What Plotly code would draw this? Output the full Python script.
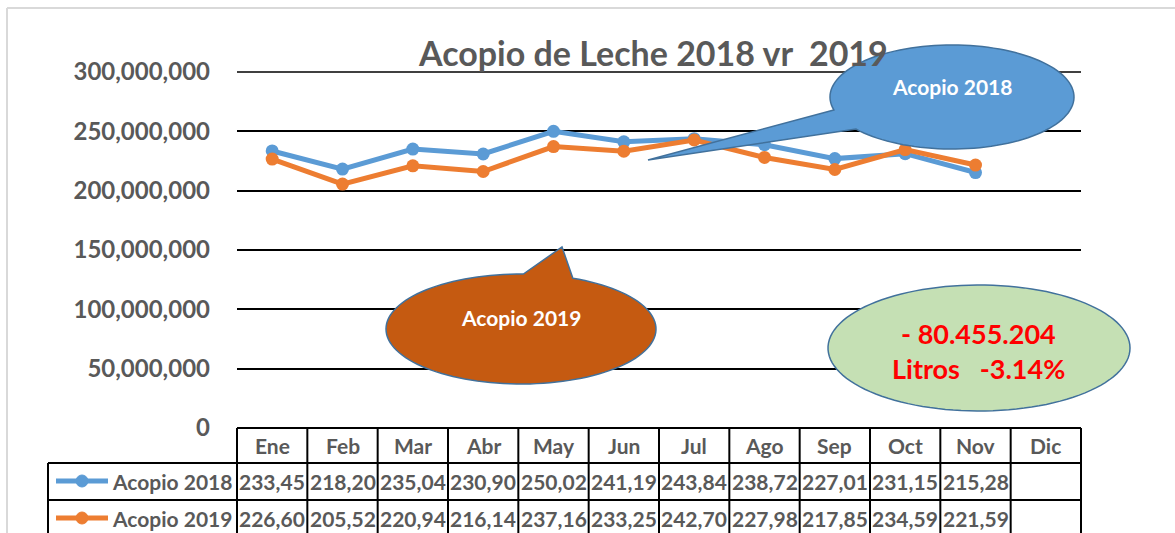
import numpy as np
import plotly.graph_objects as go

# ---------------- data ----------------
months = ["Ene", "Feb", "Mar", "Abr", "May", "Jun", "Jul", "Ago", "Sep", "Oct", "Nov", "Dic"]
acopio_2018 = [233.45, 218.20, 235.04, 230.90, 250.02, 241.19, 243.84, 238.72, 227.01, 231.15, 215.28, None]
acopio_2019 = [226.60, 205.52, 220.94, 216.14, 237.16, 233.25, 242.70, 227.98, 217.85, 234.59, 221.59, None]
series_names = ["Acopio 2018", "Acopio 2019"]
series_colors = ["#5B9BD5", "#ED7D31"]
title_text = "Acopio de Leche 2018 vr\u00a0\u00a02019"
diff_text = ["- 80.455.204", "Litros\u00a0\u00a0\u00a0-3.14%"]
y_ticks = [0, 50e6, 100e6, 150e6, 200e6, 250e6, 300e6]

W, H = 1175, 533
L, R, T, B = 237, 1081, 72, 428
GRAY = "#595959"
FONT = "Lato"


def pp(px, py):
    """pixel -> paper coords"""
    return (px - L) / (R - L), (B - py) / (B - T)


def callout_path(cx, cy, rx, ry, t_start, t_end, tip=None, n=120):
    ts = np.radians(np.linspace(t_start, t_end, n))
    pts = [(cx + rx * np.cos(t), cy + ry * np.sin(t)) for t in ts]
    if tip is not None:
        pts.append(tip)
    s = ""
    for i, (x, y) in enumerate(pts):
        X, Y = pp(x, y)
        s += ("M" if i == 0 else "L") + f"{X:.5f},{Y:.5f} "
    return s + "Z"


def text_ann(px, py, text, font, xanchor="center"):
    x, y = pp(px, py)
    return dict(x=x, y=y, xref="paper", yref="paper", text=text, showarrow=False,
                font=font, xanchor=xanchor, yanchor="middle")


fig = go.Figure()
series_vals = [acopio_2018, acopio_2019]
for name, vals, col in zip(series_names, series_vals, series_colors):
    fig.add_trace(go.Scatter(
        x=months, y=[None if v is None else v * 1e6 for v in vals],
        mode="lines+markers", name=name,
        line=dict(color=col, width=5), marker=dict(color=col, size=13),
        showlegend=False, hoverinfo="skip"))

shapes = []
annotations = []

# frame
shapes.append(dict(type="line", xref="paper", yref="paper",
                   x0=pp(7, 0)[0], x1=pp(7, 0)[0], y0=pp(0, 8)[1], y1=pp(0, 540)[1],
                   line=dict(color="#D9D9D9", width=2)))
shapes.append(dict(type="line", xref="paper", yref="paper",
                   x0=pp(7, 0)[0], x1=pp(1180, 0)[0], y0=pp(0, 8)[1], y1=pp(0, 8)[1],
                   line=dict(color="#D9D9D9", width=2)))
# top gridline (at the plot edge)
shapes.append(dict(type="line", xref="paper", yref="paper", x0=0, x1=1, y0=1, y1=1,
                   line=dict(color="black", width=1.5), layer="below"))

# ---------------- data table ----------------
n = len(months)
col_x = [i / n for i in range(n + 1)]
row_hdr_top, row1_top, row2_top, row2_bot = 428, 463, 500, 536
tl = dict(color="black", width=2)
x_leg = pp(48, 0)[0]
for yb, x0 in [(row_hdr_top, 0), (row1_top, x_leg), (row2_top, x_leg), (row2_bot, x_leg)]:
    yy = pp(0, yb)[1]
    shapes.append(dict(type="line", xref="paper", yref="paper", x0=x0, x1=1, y0=yy, y1=yy, line=tl))
for cx_ in col_x:
    shapes.append(dict(type="line", xref="paper", yref="paper", x0=cx_, x1=cx_,
                       y0=pp(0, row_hdr_top)[1], y1=pp(0, row2_bot)[1], line=tl))
shapes.append(dict(type="line", xref="paper", yref="paper", x0=x_leg, x1=x_leg,
                   y0=pp(0, row1_top)[1], y1=pp(0, row2_bot)[1], line=tl))

cell_font = dict(family=FONT, size=21, color=GRAY, weight="bold")
for m in months:
    annotations.append(dict(x=m, xref="x", y=pp(0, 445)[1], yref="paper", text=m,
                            showarrow=False, font=cell_font, xanchor="center", yanchor="middle"))
row_centers = [481, 518]
for name, vals, col, yc in zip(series_names, series_vals, series_colors, row_centers):
    yy = pp(0, yc)[1]
    for m, v in zip(months, vals):
        if v is None:
            continue
        annotations.append(dict(x=m, xref="x", y=yy, yref="paper",
                                text=f"{v:.2f}".replace(".", ","),
                                showarrow=False, font=cell_font, xanchor="center", yanchor="middle"))
    # legend key
    shapes.append(dict(type="line", xref="paper", yref="paper",
                       x0=pp(56, 0)[0], x1=pp(108, 0)[0], y0=yy, y1=yy,
                       line=dict(color=col, width=5)))
    shapes.append(dict(type="circle", xref="paper", yref="paper",
                       x0=pp(76, 0)[0], x1=pp(88, 0)[0], y0=pp(0, yc - 6)[1], y1=pp(0, yc + 6)[1],
                       fillcolor=col, line=dict(color=col, width=1)))
    annotations.append(text_ann(110, yc, name, cell_font, xanchor="left"))

# ---------------- title ----------------
annotations.append(text_ann(653, 53, title_text,
                            dict(family=FONT, size=34, color=GRAY, weight="bold")))

# ---------------- callouts ----------------
outline = dict(color="#41719C", width=1.5)
callout_font = dict(family=FONT, size=21, color="white", weight="bold")
# Acopio 2018 (blue)
shapes.append(dict(type="path", xref="paper", yref="paper",
                   path=callout_path(952, 97, 122, 52, 165.6, 141.9 + 360, tip=(648, 160)),
                   fillcolor="#5B9BD5", line=outline))
annotations.append(text_ann(952, 86, series_names[0], callout_font))
# Acopio 2019 (orange)
shapes.append(dict(type="path", xref="paper", yref="paper",
                   path=callout_path(521, 329, 135, 55, 292.6, 271 + 360, tip=(562, 247)),
                   fillcolor="#C55A11", line=outline))
annotations.append(text_ann(521, 317, series_names[1], callout_font))
# difference (green)
shapes.append(dict(type="path", xref="paper", yref="paper",
                   path=callout_path(979, 348, 151, 63, 0, 360),
                   fillcolor="#C5E0B4", line=outline))
for txt, yc in zip(diff_text, [333, 368]):
    annotations.append(text_ann(978, yc, txt,
                                dict(family=FONT, size=27, color="#FF0000", weight="bold")))

fig.update_layout(
    width=W, height=H,
    margin=dict(l=L, r=W - R, t=T, b=H - B, pad=0),
    paper_bgcolor="white", plot_bgcolor="white",
    showlegend=False,
    shapes=shapes, annotations=annotations,
    xaxis=dict(type="category", range=[-0.5, n - 0.5], showticklabels=False,
               showgrid=False, zeroline=False, showline=False, ticks=""),
    yaxis=dict(range=[0, 300e6], tickvals=y_ticks, tickformat=",d",
               showgrid=True, gridcolor="black", gridwidth=1.5,
               zeroline=False, showline=False, ticks="",
               ticklabelstandoff=26,
               tickfont=dict(family=FONT, size=24, color=GRAY, weight="bold")),
)

fig.write_html("out.html", config={"displayModeBar": False},
               post_script="document.body.style.margin='0px';")
